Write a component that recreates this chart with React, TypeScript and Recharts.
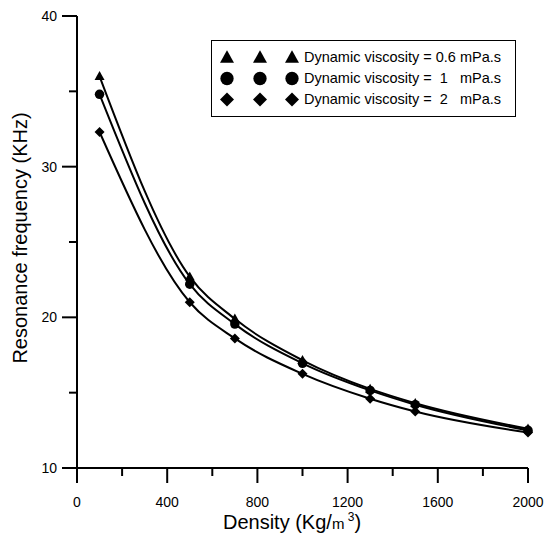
import { LineChart, Line, XAxis, YAxis, Label } from "recharts";

const densities = [100, 500, 700, 1000, 1300, 1500, 2000];
const visc06 = [36.0, 22.7, 19.9, 17.15, 15.25, 14.3, 12.6];
const visc1 = [34.8, 22.2, 19.55, 16.95, 15.15, 14.2, 12.5];
const visc2 = [32.3, 21.0, 18.6, 16.25, 14.6, 13.75, 12.35];

const seriesKeys = ["v06", "v1", "v2"];
const seriesShapes = ["triangle", "circle", "diamond"];
const legendLabels = [
  "Dynamic viscosity = 0.6 mPa.s",
  "Dynamic viscosity =  1   mPa.s",
  "Dynamic viscosity =  2   mPa.s",
];

const xTicks = [0, 200, 400, 600, 800, 1000, 1200, 1400, 1600, 1800, 2000];
const yTicks = [10, 15, 20, 25, 30, 35, 40];

const data = densities.map((d, i) => ({
  density: d,
  v06: visc06[i],
  v1: visc1[i],
  v2: visc2[i],
}));

const FONT = "'Liberation Sans', Arial, sans-serif";

function Marker({ cx, cy, shape, size }: { cx: number; cy: number; shape: string; size: number }) {
  const r = size / 2;
  if (shape === "triangle") {
    return (
      <polygon
        points={`${cx},${cy - r * 1.05} ${cx - r},${cy + r * 0.75} ${cx + r},${cy + r * 0.75}`}
        fill="#000"
      />
    );
  }
  if (shape === "circle") {
    return <circle cx={cx} cy={cy} r={r * 0.95} fill="#000" />;
  }
  return (
    <polygon
      points={`${cx},${cy - r} ${cx + r},${cy} ${cx},${cy + r} ${cx - r},${cy}`}
      fill="#000"
    />
  );
}

function makeDot(shape: string) {
  return (props: any) => {
    if (props.cx == null || props.cy == null) return <g key={props.index} />;
    return (
      <g key={props.index}>
        <Marker cx={props.cx} cy={props.cy} shape={shape} size={10} />
      </g>
    );
  };
}

function XTick(props: any) {
  const { x, y, payload } = props;
  const major = payload.value % 400 === 0;
  return (
    <g>
      <line x1={x} x2={x} y1={y} y2={y + (major ? 15 : 8)} stroke="#000" strokeWidth={2} />
      {major && (
        <text x={x} y={y + 39} textAnchor="middle" fontSize={14} fontFamily={FONT} fill="#000">
          {payload.value}
        </text>
      )}
    </g>
  );
}

function YTick(props: any) {
  const { x, y, payload } = props;
  const major = payload.value % 10 === 0;
  return (
    <g>
      <line x1={x} x2={x - (major ? 15 : 8)} y1={y} y2={y} stroke="#000" strokeWidth={2} />
      {major && (
        <text x={x - 20} y={y + 5} textAnchor="end" fontSize={14} fontFamily={FONT} fill="#000">
          {payload.value}
        </text>
      )}
    </g>
  );
}

function LegendBox() {
  return (
    <div
      style={{
        position: "absolute",
        left: 211,
        top: 40,
        border: "1px solid #000",
        width: 305,
        height: 77,
        boxSizing: "border-box",
        background: "#fff",
        paddingTop: 6,
      }}
    >
      {seriesShapes.map((s, i) => (
        <div key={s} style={{ display: "flex", alignItems: "center", height: 21 }}>
          <svg width={92} height={21} style={{ flex: "none" }}>
            {[15, 48, 80].map((mx) => (
              <Marker key={mx} cx={mx} cy={10.5} shape={s} size={14} />
            ))}
          </svg>
          <span
            style={{
              fontFamily: FONT,
              fontSize: 14.5,
              whiteSpace: "pre",
              color: "#000",
              lineHeight: "21px",
            }}
          >
            {legendLabels[i]}
          </span>
        </div>
      ))}
    </div>
  );
}

export default function App() {
  return (
    <div style={{ position: "absolute", left: 0, top: 0, width: 545, height: 540, background: "#fff" }}>
      <LineChart width={545} height={540} data={data} margin={{ top: 16, right: 17, left: 0, bottom: 0 }}>
        <XAxis
          dataKey="density"
          type="number"
          domain={[0, 2000]}
          ticks={xTicks}
          tick={<XTick />}
          tickLine={false}
          tickSize={0}
          tickMargin={0}
          height={72}
          axisLine={{ stroke: "#000", strokeWidth: 2 }}
          interval={0}
        >
          <Label
            content={() => (
              <text x={292} y={529} textAnchor="middle" fontFamily={FONT} fontSize={20} fill="#000">
                Density (Kg/
                <tspan fontSize={15}>m</tspan>
                <tspan fontSize={12} dy={-8}> 3</tspan>
                <tspan dy={8}>)</tspan>
              </text>
            )}
          />
        </XAxis>
        <XAxis
          xAxisId="top"
          orientation="top"
          type="number"
          domain={[0, 2000]}
          tick={false}
          tickLine={false}
          height={0}
          axisLine={{ stroke: "#000", strokeWidth: 2 }}
        />
        <YAxis
          type="number"
          domain={[10, 40]}
          ticks={yTicks}
          tick={<YTick />}
          tickLine={false}
          tickSize={0}
          tickMargin={0}
          width={77}
          axisLine={{ stroke: "#000", strokeWidth: 2 }}
          interval={0}
        >
          <Label
            content={() => (
              <text
                x={0}
                y={0}
                transform="translate(27,238) rotate(-90)"
                textAnchor="middle"
                fontFamily={FONT}
                fontSize={20}
                fill="#000"
              >
                Resonance frequency (KHz)
              </text>
            )}
          />
        </YAxis>
        <YAxis
          yAxisId="right"
          orientation="right"
          type="number"
          domain={[10, 40]}
          tick={false}
          tickLine={false}
          width={0}
          axisLine={{ stroke: "#000", strokeWidth: 2 }}
        />
        {seriesKeys.map((k, i) => (
          <Line
            key={k}
            dataKey={k}
            type="monotone"
            stroke="#000"
            strokeWidth={2}
            dot={makeDot(seriesShapes[i])}
            activeDot={false}
            isAnimationActive={false}
            legendType="none"
          />
        ))}
      </LineChart>
      <LegendBox />
    </div>
  );
}
